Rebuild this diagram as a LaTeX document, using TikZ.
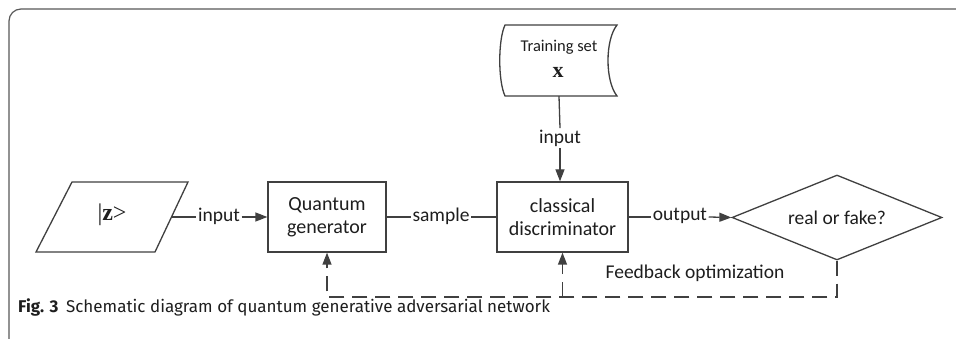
\documentclass[tikz,border=0pt]{standalone}
\usepackage{fontspec}
\setmainfont{Carlito}
\newfontfamily\capfont{Fira Sans}
\newfontfamily\serifx{Liberation Serif}
\usetikzlibrary{shapes.geometric,arrows.meta}
\definecolor{ln}{HTML}{404040}
\definecolor{tx}{HTML}{1E1E1E}
\begin{document}
\begin{tikzpicture}[x=1pt,y=-1pt,
  every node/.style={text=tx},
  lbl/.style={inner sep=1.5pt,font=\fontsize{19.5}{22}\selectfont},
  boxnode/.style={draw=ln,line width=1.3pt,inner sep=0pt,align=center,font=\fontsize{20}{23}\selectfont},
  conn/.style={draw=ln,line width=1.3pt},
  arr/.style={conn,-{Triangle[length=12pt,width=9pt]}},
  fb/.style={arr,dash pattern=on 15pt off 8pt}]
\clip (0,0) rectangle (956,339);
\fill[white] (0,0) rectangle (956,339);
% frame
\draw[draw=gray!70!black,line width=1.2pt,rounded corners=12pt] (980,9) -- (9,9) -- (9,350);
% |z> parallelogram
\node[minimum width=152pt,minimum height=70pt,inner sep=0pt] (z) at (112,217) {};
\draw[conn] (72,182) -- (188,182) -- (155,252) -- (36,252) -- cycle;
\node[inner sep=0pt,font=\serifx\fontsize{24}{26}\selectfont] (zt) at (112,215) {|\textbf{z}>};
\coordinate (zr) at (171.5,217);
% generator
\node[boxnode,minimum width=118pt,minimum height=70pt] (gen) at (327,217) {Quantum\\generator};
% discriminator
\node[boxnode,minimum width=131pt,minimum height=70pt] (disc) at (562.5,217) {classical\\discriminator};
% training set
\node[minimum width=115pt,minimum height=71pt,inner sep=0pt] (train) at (559,60.5) {};
\draw[conn] (505,25) -- (617,25) .. controls (605,40) and (605,81) .. (617,96) -- (505,96) .. controls (498,81) and (498,40) .. (505,25) -- cycle;
\node[inner sep=0pt,font=\fontsize{16.5}{18}\selectfont] (trt) at (559,47) {Training set};
\node[inner sep=0pt,font=\serifx\bfseries\fontsize{22}{24}\selectfont] (trx) at (558,72) {x};
% diamond
\node[diamond,draw=ln,line width=1.3pt,inner sep=0pt,minimum width=210pt,minimum height=85pt,aspect=2.47,font=\fontsize{19.5}{22}\selectfont] (dia) at (837,217.5) {real or fake?};
% labels
\node[lbl] (in1) at (219,216) {input};
\node[lbl] (smp) at (441,216) {sample};
\node[lbl] (in2) at (560,138) {input};
\node[lbl] (out) at (680,216) {output};
\node[lbl] (fbt) at (695,273) {Feedback optimization};
% connectors
\draw[conn] (zr) -- (in1.west |- zr);
\draw[arr] (in1.east |- zr) -- (gen.west);
\draw[conn] (gen.east) -- (smp.west |- gen.east);
\draw[conn] (smp.east |- gen.east) -- (disc.west);
\draw[conn] (train.south) -- (in2.north);
\draw[arr] (in2.south) -- (disc.north -| in2.south);
\draw[conn] (disc.east) -- (out.west |- disc.east);
\draw[arr] (out.east |- disc.east) -- (dia.west);
% feedback
\coordinate (fb1) at (837,297);
\coordinate (fb2) at (327,297);
\coordinate (fb3) at (562.5,297);
\draw[fb] (dia.south) -- (fb1) -- (fb2) -- (gen.south);
\draw[fb] (fb3) -- (disc.south);
% caption
\node[anchor=west,inner sep=0pt,font=\capfont\fontsize{17}{20}\selectfont] (cap) at (18,307) {\textbf{Fig. 3}\hspace{0.45em}Schematic diagram of quantum generative adversarial network};
\end{tikzpicture}
\end{document}
